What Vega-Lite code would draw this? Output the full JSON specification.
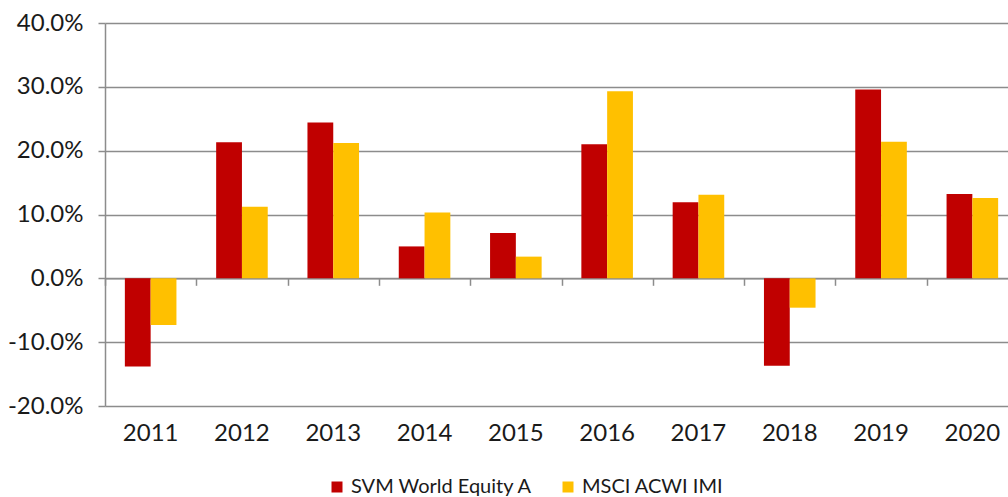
{
  "$schema": "https://vega.github.io/schema/vega-lite/v6.json",
  "autosize": {"type": "none"},
  "padding": {"left": 105, "top": 23, "right": 0, "bottom": 91},
  "width": 913,
  "height": 383,
  "background": "white",
  "config": {
    "view": {"stroke": null},
    "font": "Lato",
    "axis": {"labelFont": "Lato", "labelColor": "#1a1a1a"}
  },
  "data": {
    "values": [
      {"year": "2011", "series": "SVM World Equity A", "value": -0.138},
      {"year": "2011", "series": "MSCI ACWI IMI", "value": -0.073},
      {"year": "2012", "series": "SVM World Equity A", "value": 0.213},
      {"year": "2012", "series": "MSCI ACWI IMI", "value": 0.112},
      {"year": "2013", "series": "SVM World Equity A", "value": 0.244},
      {"year": "2013", "series": "MSCI ACWI IMI", "value": 0.212},
      {"year": "2014", "series": "SVM World Equity A", "value": 0.050},
      {"year": "2014", "series": "MSCI ACWI IMI", "value": 0.103},
      {"year": "2015", "series": "SVM World Equity A", "value": 0.071},
      {"year": "2015", "series": "MSCI ACWI IMI", "value": 0.034},
      {"year": "2016", "series": "SVM World Equity A", "value": 0.210},
      {"year": "2016", "series": "MSCI ACWI IMI", "value": 0.293},
      {"year": "2017", "series": "SVM World Equity A", "value": 0.119},
      {"year": "2017", "series": "MSCI ACWI IMI", "value": 0.131},
      {"year": "2018", "series": "SVM World Equity A", "value": -0.137},
      {"year": "2018", "series": "MSCI ACWI IMI", "value": -0.046},
      {"year": "2019", "series": "SVM World Equity A", "value": 0.296},
      {"year": "2019", "series": "MSCI ACWI IMI", "value": 0.214},
      {"year": "2020", "series": "SVM World Equity A", "value": 0.132},
      {"year": "2020", "series": "MSCI ACWI IMI", "value": 0.126}
    ]
  },
  "resolve": {"axis": {"x": "independent"}},
  "layer": [
    {
      "mark": {"type": "bar"},
      "encoding": {
        "x": {
          "field": "year", "type": "nominal", "sort": null,
          "scale": {"paddingInner": 0, "paddingOuter": 0},
          "axis": {
            "orient": "bottom", "title": null, "labelAngle": 0,
            "ticks": false, "domain": false, "grid": false,
            "labelFontSize": 24, "labelPadding": 15
          }
        },
        "xOffset": {
          "field": "series", "type": "nominal",
          "sort": ["SVM World Equity A", "MSCI ACWI IMI"],
          "scale": {"paddingInner": 0, "paddingOuter": 0.77}
        },
        "y": {
          "field": "value", "type": "quantitative",
          "scale": {"domain": [-0.2, 0.4], "nice": false, "zero": false},
          "axis": {
            "title": null, "values": [-0.2, -0.1, 0, 0.1, 0.2, 0.3, 0.4],
            "labelExpr": "replace(format(datum.value, '.1%'), '\u2212', '-')",
            "grid": true, "gridColor": "#8c8c8c", "gridWidth": 1.5,
            "domain": true, "domainColor": "#8c8c8c", "domainWidth": 1.5,
            "ticks": true, "tickColor": "#8c8c8c", "tickWidth": 1.5, "tickSize": 7,
            "labelFontSize": 24, "labelPadding": 15
          }
        },
        "color": {
          "field": "series", "type": "nominal",
          "scale": {"domain": ["SVM World Equity A", "MSCI ACWI IMI"], "range": ["#C00000", "#FFC000"]},
          "legend": {
            "title": null, "orient": "none", "direction": "horizontal",
            "legendX": 222, "legendY": 454,
            "symbolType": "square", "symbolSize": 121, "symbolStrokeWidth": 0,
            "labelFontSize": 20, "labelFont": "Lato", "labelColor": "#1a1a1a", "labelLimit": 400,
            "labelOffset": 4, "columnPadding": 25
          }
        }
      }
    },
    {
      "mark": {"type": "bar", "opacity": 0},
      "encoding": {
        "x": {
          "field": "year", "type": "nominal", "sort": null,
          "axis": {
            "orient": "bottom", "title": null, "labels": false, "offset": -127.7,
            "ticks": true, "tickBand": "extent", "tickSize": 7, "tickColor": "#8c8c8c", "tickWidth": 1.5,
            "domain": true, "domainColor": "#8c8c8c", "domainWidth": 1.5, "grid": false
          }
        },
        "y": {"field": "value", "type": "quantitative"}
      }
    }
  ]
}
